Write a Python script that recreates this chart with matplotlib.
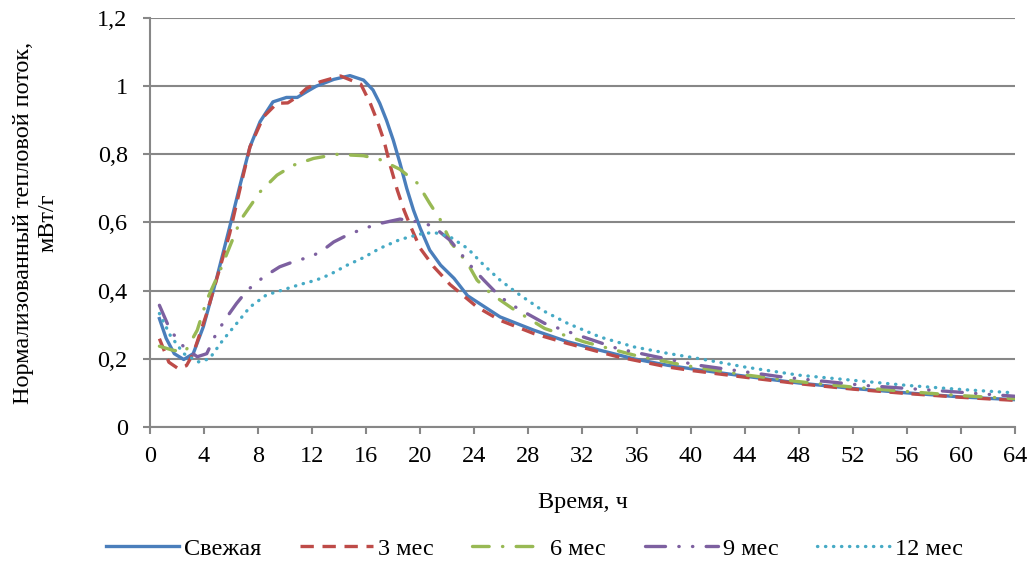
import matplotlib
matplotlib.use("Agg")
import matplotlib.pyplot as plt
from matplotlib.ticker import FuncFormatter

# ДАННЫЕ (время, ч / мВт/г)
t_fresh = [0.7, 1.2, 1.8, 2.5, 3.2, 3.95, 4.9, 5.9, 6.7, 7.4, 8.15, 9.1, 10.1, 10.9, 11.6, 12.3, 13.6, 14.8,
           15.8, 16.5, 17.0, 17.5, 18.0, 18.5, 19.0, 19.5, 20.0, 20.7, 21.5, 22.5, 23.5, 25.9, 28.4, 30.9,
           33.3, 35.8, 38.3, 40.7, 44, 48, 52, 56, 60, 64]
v_fresh = [0.318, 0.26, 0.215, 0.198, 0.215, 0.294, 0.431, 0.587, 0.715, 0.822, 0.896, 0.954, 0.967, 0.967,
           0.984, 1.0, 1.02, 1.031, 1.018, 0.989, 0.95, 0.90, 0.842, 0.774, 0.70, 0.636, 0.583, 0.519, 0.475,
           0.436, 0.385, 0.323, 0.284, 0.25, 0.225, 0.2, 0.181, 0.167, 0.149, 0.129, 0.113, 0.1, 0.088, 0.08]

t_3m = [0.7, 1.4, 2.1, 2.7, 3.2, 4.2, 5.2, 5.9, 6.7, 7.4, 8.4, 9.4, 10.2, 10.9, 11.6, 12.6, 14.1, 15.6, 16.3,
        16.8, 17.3, 17.8, 18.3, 18.8, 19.3, 20.0, 21.0, 21.7, 22.2, 24.2, 25.9, 28.4, 30.9, 34.6, 38.3, 40,
        44, 48, 52, 56, 60, 64]
v_3m = [0.259, 0.19, 0.171, 0.18, 0.215, 0.333, 0.47, 0.568, 0.705, 0.822, 0.91, 0.95, 0.951, 0.969, 0.994,
        1.013, 1.03, 1.006, 0.95, 0.90, 0.842, 0.764, 0.695, 0.636, 0.587, 0.524, 0.47, 0.44, 0.418, 0.352,
        0.313, 0.274, 0.245, 0.206, 0.176, 0.166, 0.146, 0.127, 0.111, 0.098, 0.087, 0.078]

t_6m = [0.7, 1.7, 2.6, 3.5, 4.2, 5.2, 5.9, 6.7, 8.15, 9.4, 10.6, 12.1, 13.8, 15.8, 17.0, 18.5, 19.8, 20.7,
        21.5, 22.3, 23.5, 24.2, 25.2, 26.8, 29.2, 32.1, 35.8, 39.5, 44, 48, 52, 56, 60, 64]
v_6m = [0.237, 0.225, 0.22, 0.284, 0.372, 0.46, 0.529, 0.607, 0.69, 0.739, 0.768, 0.788, 0.8, 0.796, 0.785,
        0.756, 0.715, 0.656, 0.607, 0.539, 0.48, 0.431, 0.392, 0.348, 0.289, 0.25, 0.211, 0.181, 0.153,
        0.133, 0.117, 0.104, 0.092, 0.083]

t_9m = [0.7, 1.5, 2.5, 3.5, 4.2, 4.9, 5.7, 6.4, 7.2, 8.4, 9.6, 10.9, 11.9, 12.8, 13.6, 14.6, 15.8, 17.0, 18.5,
        19.8, 20.9, 22.2, 23.2, 23.9, 24.7, 25.9, 27.2, 29.2, 31.7, 34.6, 37.2, 40.6, 46.7, 52.8, 58.5, 64]
v_9m = [0.357, 0.284, 0.235, 0.206, 0.215, 0.274, 0.323, 0.362, 0.401, 0.44, 0.47, 0.489, 0.499, 0.519,
        0.543, 0.563, 0.582, 0.597, 0.61, 0.602, 0.59, 0.548, 0.499, 0.465, 0.431, 0.382, 0.348, 0.304,
        0.269, 0.23, 0.208, 0.181, 0.147, 0.122, 0.106, 0.09]

t_12m = [0.7, 1.5, 2.5, 3.6, 4.4, 5.4, 6.4, 7.4, 8.6, 9.9, 11.1, 12.3, 13.3, 14.6, 15.8, 17.0, 18.5, 20.0,
         21.0, 22.2, 23.5, 24.7, 25.9, 27.2, 29.0, 30.9, 33.3, 35.8, 38.3, 40.7, 44, 48, 52, 56, 60, 64]
v_12m = [0.333, 0.269, 0.215, 0.191, 0.2, 0.255, 0.303, 0.352, 0.387, 0.403, 0.418, 0.431, 0.447, 0.475,
         0.497, 0.524, 0.55, 0.566, 0.571, 0.558, 0.524, 0.475, 0.431, 0.392, 0.343, 0.304, 0.264, 0.235,
         0.216, 0.2, 0.176, 0.152, 0.137, 0.122, 0.11, 0.1]

labels = ["Свежая", "3 мес", "6 мес", "9 мес", "12 мес"]

plt.rcParams['font.family'] = ['Liberation Serif', 'DejaVu Serif']
fs = 17.5

fig = plt.figure(figsize=(10.32, 5.64), dpi=100)
ax = fig.add_axes([0.1453, 0.243, 0.8382, 0.725])

lw = 2.4
ax.plot(t_fresh, v_fresh, color="#4a7ebb", lw=lw, label=labels[0])
ax.plot(t_3m, v_3m, color="#be4b48", lw=lw, dashes=(4, 2.6), label=labels[1])
ax.plot(t_6m, v_6m, color="#98b954", lw=lw, dashes=(5, 4, 0.1, 4), dash_capstyle='round', label=labels[2])
ax.plot(t_9m, v_9m, color="#7d60a0", lw=lw, dashes=(6, 4, 0.1, 4, 0.1, 4), dash_capstyle='round',
        label=labels[3])
ax.plot(t_12m, v_12m, color="#46aac5", lw=lw, dashes=(0.1, 2.3), dash_capstyle='round', label=labels[4])

#EJES
ax.set_xlim(0, 64)
ax.set_ylim(0, 1.2)
ax.set_xticks(range(0, 65, 4))
ax.set_yticks([0, 0.2, 0.4, 0.6, 0.8, 1.0, 1.2])
ax.yaxis.set_major_formatter(FuncFormatter(lambda v, p: ("%g" % round(v, 1)).replace(".", ",")))
ax.grid(axis='y', color="#878787", lw=1.5)
ax.set_axisbelow(True)
for s in ["top", "right"]:
    ax.spines[s].set_visible(False)
for s in ["left", "bottom"]:
    ax.spines[s].set_color("#878787")
    ax.spines[s].set_linewidth(1.5)
ax.tick_params(direction='out', length=5, width=1.5, color="#878787", labelsize=fs)
ax.tick_params(axis='x', pad=9)
ax.tick_params(axis='y', pad=11)

ax.set_xlabel("Время, ч", fontsize=fs)
ax.xaxis.set_label_coords(0.5, -0.16)
ax.set_ylabel("Нормализованный тепловой поток,\nмВт/г", fontsize=fs, linespacing=1.2)
ax.yaxis.set_label_coords(-0.106, 0.5)

fig.legend(loc='center', bbox_to_anchor=(0.518, 0.027), ncol=5, frameon=False, handlelength=3.0,
           columnspacing=1.6, handletextpad=0.2, fontsize=fs)

fig.savefig("out.png", dpi=100)
